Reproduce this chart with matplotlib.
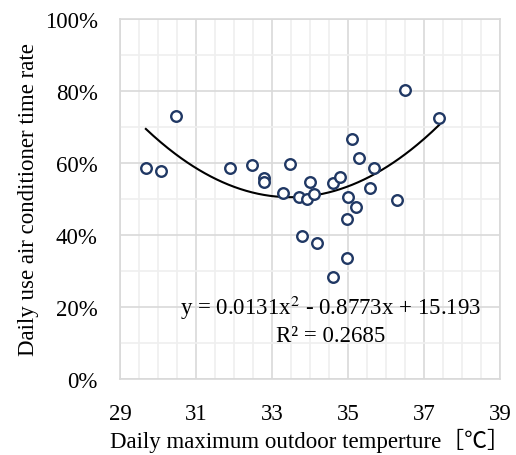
import matplotlib
matplotlib.use('Agg')
import matplotlib.pyplot as plt
from matplotlib.ticker import MultipleLocator, FixedLocator, FuncFormatter
import numpy as np

# 데이터: 일 최고 외기온도 [℃] / 일 에어컨 사용 시간 비율 [%]
temp = [29.68, 30.09, 30.48, 31.89, 32.48, 32.79, 32.79, 33.48, 33.29, 33.70,
        33.91, 34.10, 33.99, 34.60, 34.80, 35.11, 35.30, 35.68, 35.59, 34.99,
        35.20, 36.30, 34.98, 33.80, 34.18, 34.98, 34.60, 36.51, 37.40]
rate = [58.7, 57.7, 73.1, 58.6, 59.4, 55.7, 54.6, 59.8, 51.7, 50.6,
        50.0, 51.4, 54.8, 54.5, 56.2, 66.6, 61.3, 58.5, 53.0, 50.5,
        47.9, 49.7, 44.4, 39.8, 37.9, 33.5, 28.2, 80.3, 72.4]
x_ticks = [29, 31, 33, 35, 37, 39]

# 추세선 계수 (Excel 표기값, y는 비율)
coef = [0.0131, -0.8773, 15.193]

plt.rcParams['font.family'] = ['Liberation Serif', 'Noto Sans CJK JP', 'DejaVu Serif']
FS = 16.5

fig = plt.figure(figsize=(5.16, 4.56), dpi=100)
ax = fig.add_axes([0.2326, 0.1667, 0.7364, 0.7895])

# 산점도
ax.scatter(temp, rate, s=58, facecolors='white', edgecolors='#203864',
           linewidths=1.7, zorder=3)

# 2차 추세선
xs = np.linspace(min(temp), max(temp), 200)
ys = np.polyval(coef, xs) * 100
ax.plot(xs, ys, color='black', lw=1.5, zorder=2)

ax.set_xlim(29, 39)
ax.set_ylim(0, 100)
ax.xaxis.set_major_locator(FixedLocator(x_ticks))
ax.xaxis.set_minor_locator(MultipleLocator(0.5))
ax.yaxis.set_major_locator(MultipleLocator(20))
ax.yaxis.set_minor_locator(MultipleLocator(10))
ax.yaxis.set_major_formatter(FuncFormatter(lambda v, p: f'{v:.0f}%'))

ax.grid(which='major', color='#d9d9d9', lw=1.2, zorder=0)
ax.grid(which='minor', color='#efefef', lw=1.2, zorder=0)
ax.set_axisbelow(True)
for s in ax.spines.values():
    s.set_color('#d9d9d9')
    s.set_linewidth(1.2)
ax.tick_params(which='both', length=0, labelsize=FS, colors='black')
ax.tick_params(axis='x', pad=17)
ax.tick_params(axis='y', pad=16)

ax.set_xlabel('Daily maximum outdoor temperture［℃］', fontsize=FS, labelpad=3)
ax.set_ylabel('Daily use air conditioner time rate', fontsize=FS, labelpad=4)

# 추세선 수식
ax.text(34.55, 20, 'y = 0.0131x$^{2}$ - 0.8773x + 15.193', fontsize=FS,
        ha='center', va='center', math_fontfamily='stix')
ax.text(34.55, 12.2, 'R² = 0.2685', fontsize=FS, ha='center', va='center')

fig.savefig('out.png', dpi=100)
